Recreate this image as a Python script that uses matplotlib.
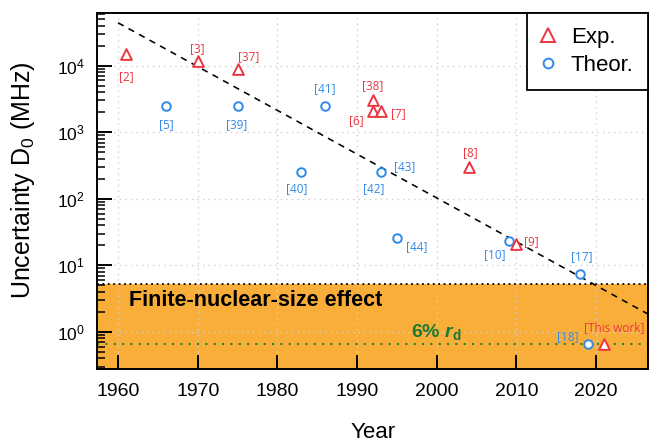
import numpy as np
import matplotlib
matplotlib.use('Agg')
from matplotlib import pyplot as plt
from matplotlib.lines import Line2D

plt.rcParams.update({'font.family': ['Liberation Sans', 'DejaVu Sans'], 'font.size': 13,
                     'mathtext.fontset': 'custom',
                     'mathtext.rm': 'Liberation Sans',
                     'mathtext.it': 'Liberation Sans:italic',
                     'mathtext.bf': 'Liberation Sans:bold',
                     'mathtext.bfit': 'Liberation Sans:italic:bold'})

# experimental results
exp_year = [1961, 1970, 1975, 1992, 1992, 1993, 2004, 2010, 2021]
exp_val = [1.49e4, 1.19e4, 8.8e3, 3.0e3, 2.08e3, 2.08e3, 303, 20.8, 0.66]
exp_ref = ['[2]', '[3]', '[37]', '[38]', '[6]', '[7]', '[8]', '[9]', '[This work]']

# theoretical results
th_year = [1966, 1975, 1986, 1983, 1993, 1995, 2009, 2018, 2019]
th_val = [2.47e3, 2.47e3, 2.5e3, 250, 250, 25.5, 23.3, 7.35, 0.667]
th_ref = ['[5]', '[39]', '[41]', '[40]', '[42]', '[44]', '[10]', '[17]', '[18]']
extra_ref = '[43]'  # second reference for the 1993 theory point

# trend line end points
trend_year = [1960, 2026.5]
trend_val = [4.4e4, 1.86]

fns_limit = 5.25   # finite-nuclear-size effect
rd_level = 0.667   # 6% r_d

# label offsets (points) for each marker
exp_off = [(0.5, -16), (0, 8.5), (8, 9), (0, 10.5), (-12, -6.5), (12.5, -1.7), (1, 10.5), (10.5, 1.8), (7, 12)]
th_off = [(0, -13), (-1, -13), (0, 12), (-3, -12), (-5, -12), (14.4, -6), (-10, -10), (1.4, 12.5), (-15, 5)]

red = '#EC3540'
blue = '#3189EA'
orange = '#F9AE3A'
green = '#1B7A35'

fig, ax = plt.subplots(figsize=(6.54, 4.48), dpi=100)
fig.subplots_adjust(left=0.1488, right=0.9908, top=0.972, bottom=0.1763)

ax.set_yscale('log')
ax.set_xlim(1957.4, 2026.5)
ax.set_ylim(0.278, 6.27e4)

ax.axhspan(0.01, fns_limit, color=orange, zorder=0, lw=0)
ax.axhline(fns_limit, color='black', ls=(0, (1, 2)), lw=1.3, zorder=1)
ax.axhline(rd_level, color='#23882F', ls=(0, (1, 3)), lw=1.5, zorder=1)
ax.grid(True, which='major', color='#CFCFCF', ls=(0, (1, 3)), lw=1.0)

ax.plot(trend_year, trend_val, color='black', ls=(0, (4, 3.5)), lw=1.15, zorder=2)

ax.scatter(exp_year, exp_val, marker='^', s=60, facecolors='white', edgecolors=red, linewidths=1.4, zorder=4)
ax.scatter(th_year, th_val, marker='o', s=38, facecolors='white', edgecolors=blue, linewidths=1.4, zorder=3)

lab = dict(textcoords='offset points', ha='center', va='center', fontsize=8.5, family=['Open Sans', 'DejaVu Sans'])
for x, y, t, o in zip(exp_year, exp_val, exp_ref, exp_off):
    ax.annotate(t, (x, y), xytext=o, color=red, **lab)
for x, y, t, o in zip(th_year, th_val, th_ref, th_off):
    ax.annotate(t, (x, y), xytext=o, color=blue, **lab)
ax.annotate(extra_ref, (th_year[4], th_val[4]), xytext=(17, 4.5), color=blue, **lab)

ax.text(1961.4, 3.02, 'Finite-nuclear-size effect', fontsize=15.5, fontweight='bold', va='center')
ax.text(2000, 1.0, r'6% $\mathbfit{r}_\mathbf{d}$', fontsize=14, fontweight='bold',
        color=green, ha='center', va='center')

ax.set_xticks([1960, 1970, 1980, 1990, 2000, 2010, 2020])
ax.tick_params(axis='x', which='both', direction='in', length=10, width=1.4, top=False,
               pad=10, labelsize=14)
ax.tick_params(axis='y', which='major', direction='in', length=11, width=1.4, right=False,
               pad=9, labelsize=12.5)
ax.tick_params(axis='y', which='minor', direction='in', length=5.5, width=1.1, right=False)
for s in ax.spines.values():
    s.set_linewidth(1.4)

ax.set_xlabel('Year', fontsize=16)
ax.xaxis.set_label_coords(0.5, -0.15)
ax.set_ylabel(r'Uncertainty D$_0$ (MHz)', fontsize=18)
ax.yaxis.set_label_coords(-0.11, 0.53)

handles = [Line2D([], [], marker='^', ls='', ms=10, mfc='white', mec=red, mew=1.4),
           Line2D([], [], marker='o', ls='', ms=7, mfc='white', mec=blue, mew=1.4)]
leg = ax.legend(handles, ['Exp.', 'Theor.'], loc='upper right', fontsize=16, fancybox=False,
                framealpha=1, edgecolor='black', borderaxespad=0, borderpad=0.65,
                labelspacing=0.3, handletextpad=0.7, handlelength=0.6)
leg.get_frame().set_linewidth(1.3)

fig.savefig('out.png', dpi=100)
